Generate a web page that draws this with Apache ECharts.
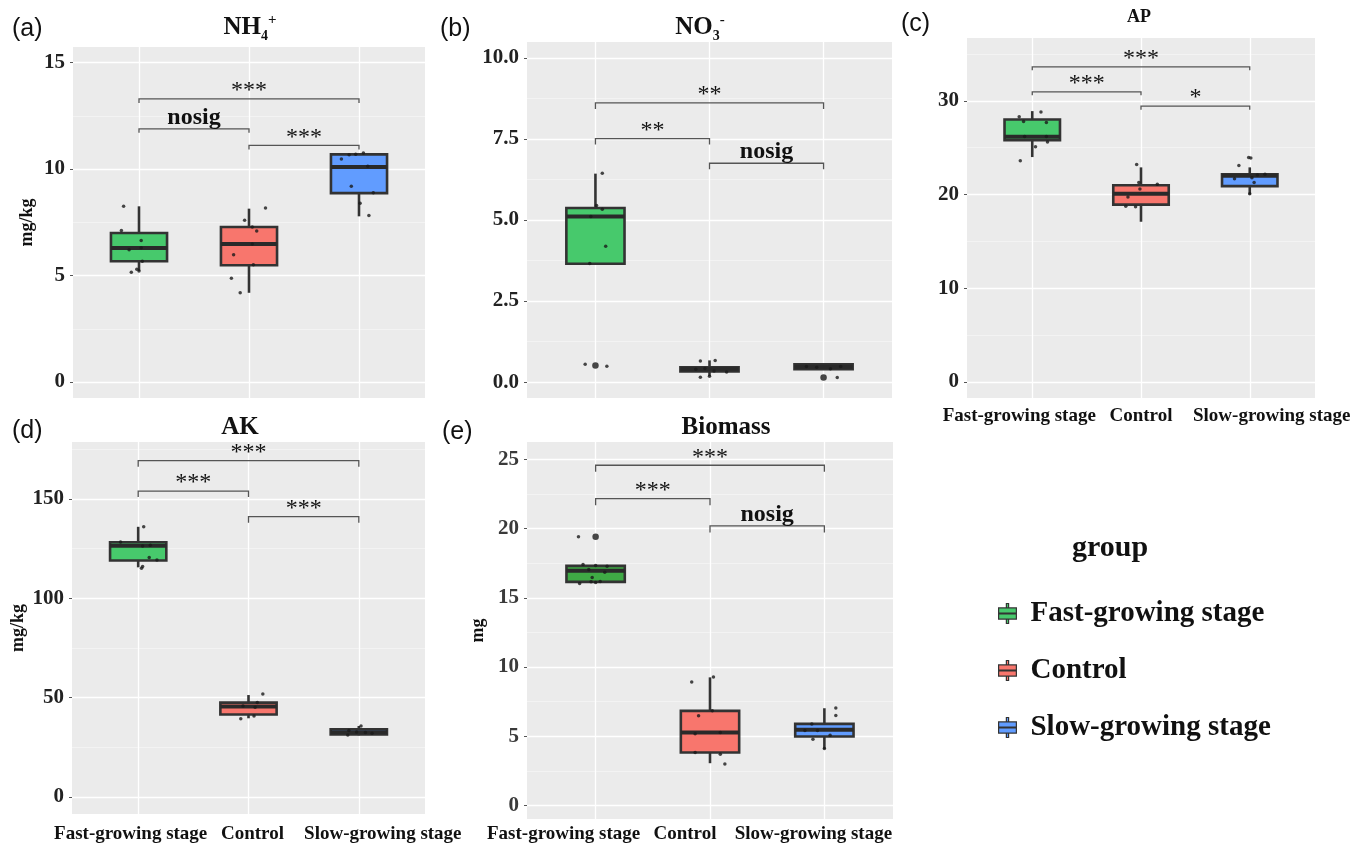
<!DOCTYPE html>
<html><head><meta charset="utf-8">
<script src="https://cdn.jsdelivr.net/npm/echarts@6/dist/echarts.min.js"></script>
<style>html,body{margin:0;padding:0;background:#fff}#c{width:1363px;height:847px}</style>
</head><body><div id="c"></div>
<script>
// ---------- data ----------
const groups = ['Fast-growing stage', 'Control', 'Slow-growing stage'];
const colors = ['#47C96C', '#F8766D', '#619CFF'];

// box stats per group: [min, Q1, median, Q3, max]
const nh4Box = [[5.21, 5.67, 6.29, 7.00, 8.25], [4.19, 5.48, 6.48, 7.28, 8.14], [7.78, 8.87, 10.09, 10.69, 10.75]];
const no3Box = [[3.65, 3.65, 5.11, 5.37, 6.43], [0.18, 0.33, 0.40, 0.46, 0.67], [0.40, 0.40, 0.47, 0.55, 0.55]];
const apBox = [[24.0, 25.8, 26.16, 28.0, 28.9], [17.1, 18.93, 20.1, 21.0, 22.9], [20.0, 20.9, 22.0, 22.17, 22.9]];
const akBox = [[115.6, 119.0, 126.5, 128.2, 136.0], [39.6, 41.5, 45.5, 47.5, 51.3], [31.0, 31.4, 32.5, 34.1, 35.7]];
const bioBox = [[16.1, 16.15, 16.95, 17.3, 17.35], [3.05, 3.82, 5.26, 6.83, 9.25], [4.06, 4.98, 5.46, 5.89, 7.02]];

// jittered observations per group: [horizontal jitter, value]
const nh4Pts = [
  [[-0.14, 8.25], [-0.16, 7.12], [0.02, 6.65], [-0.09, 6.21], [0.02, 6.31], [0.03, 5.67], [-0.02, 5.30], [-0.07, 5.16], [0, 5.21]],
  [[0.15, 8.17], [-0.04, 7.60], [0.07, 7.09], [0.03, 7.28], [0.03, 6.48], [-0.14, 5.98], [0.04, 5.51], [-0.16, 4.87], [-0.08, 4.19]],
  [[0.04, 10.75], [-0.09, 10.67], [-0.03, 10.69], [-0.16, 10.47], [0.08, 10.13], [-0.07, 9.19], [0.13, 8.89], [0.01, 8.39], [0.09, 7.82]]
];
const no3Pts = [
  [[0.06, 6.44], [0.01, 5.45], [0.06, 5.33], [-0.04, 5.11], [0.09, 4.19], [-0.05, 3.66], [-0.09, 0.55], [0.10, 0.49]],
  [[-0.08, 0.65], [0.05, 0.67], [-0.12, 0.40], [-0.04, 0.42], [0.04, 0.34], [0.15, 0.31], [-0.08, 0.15], [0, 0.18]],
  [[-0.15, 0.48], [-0.06, 0.46], [0.06, 0.41], [0.15, 0.48], [0.12, 0.14]]
];
const apPts = [
  [[-0.12, 28.3], [-0.08, 27.8], [0.08, 28.8], [0.13, 27.7], [-0.07, 26.2], [0.13, 26.2], [0.14, 25.6], [0.03, 25.1], [-0.11, 23.6]],
  [[-0.04, 23.2], [-0.02, 21.3], [0.15, 21.1], [-0.01, 20.6], [-0.12, 19.75], [-0.14, 18.75], [-0.05, 18.7]],
  [[-0.01, 23.95], [0.01, 23.9], [-0.10, 23.1], [0.07, 22.1], [0.14, 22.17], [-0.14, 21.7], [0.02, 21.8], [0.04, 21.3], [0, 20.1]]
];
const akPts = [
  [[0.05, 136.0], [-0.16, 128.4], [0.04, 126.3], [0.11, 126.7], [0.10, 120.6], [0.17, 119.3], [0.04, 116.0], [0.03, 115.1]],
  [[-0.05, 45.8], [0.06, 45.1], [0.08, 47.5], [0.13, 51.8], [-0.07, 39.3], [0.05, 40.8]],
  [[0.02, 35.7], [-0.09, 33.4], [-0.02, 32.7], [0.06, 32.4], [0.12, 32.0], [-0.10, 31.2]]
];
const bioPts = [
  [[-0.15, 19.4], [-0.11, 17.4], [0, 17.33], [0.10, 17.28], [-0.06, 17.04], [0.08, 16.85], [-0.03, 16.47], [-0.14, 16.03], [-0.04, 16.15], [0, 16.1], [0.04, 16.18]],
  [[-0.16, 8.92], [0.03, 9.28], [-0.10, 6.47], [0.02, 6.83], [-0.13, 5.17], [0.09, 5.26], [-0.13, 3.82], [0.09, 3.70], [0.13, 3.00]],
  [[0.10, 7.04], [0.10, 6.49], [-0.11, 5.89], [-0.17, 5.41], [-0.06, 5.41], [0.05, 5.07], [-0.10, 4.78], [0, 4.11]]
];
// outliers drawn larger: [group position, value]
const nh4Out = [];
const no3Out = [[1, 0.51], [3, 0.14]];
const apOut = [];
const akOut = [];
const bioOut = [[1, 19.4]];

// significance brackets: [from group, to group, y, label]
const nh4Sig = [[1, 3, 13.29, '***'], [1, 2, 11.89, 'nosig'], [2, 3, 11.11, '***']];
const no3Sig = [[1, 3, 8.61, '**'], [1, 2, 7.51, '**'], [2, 3, 6.75, 'nosig']];
const apSig = [[1, 3, 33.63, '***'], [1, 2, 30.96, '***'], [2, 3, 29.43, '*']];
const akSig = [[1, 3, 169.3, '***'], [1, 2, 154.0, '***'], [2, 3, 141.1, '***']];
const bioSig = [[1, 3, 24.57, '***'], [1, 2, 22.16, '***'], [2, 3, 20.19, 'nosig']];

// tick values
const nh4Ticks = [0, 5, 10, 15], nh4Minor = [2.5, 7.5, 12.5];
const no3Ticks = [0, 2.5, 5, 7.5, 10], no3Minor = [1.25, 3.75, 6.25, 8.75];
const apTicks = [0, 10, 20, 30], apMinor = [5, 15, 25, 35];
const akTicks = [0, 50, 100, 150], akMinor = [25, 75, 125, 175];
const bioTicks = [0, 5, 10, 15, 20, 25], bioMinor = [2.5, 7.5, 12.5, 17.5, 22.5];

// ---------- layout / style ----------
const SERIF = '"Liberation Serif", "Times New Roman", serif';
const SANS = '"Liberation Sans", Arial, sans-serif';
const BOX_W = 0.51;

const panels = [
  { box: nh4Box, pts: nh4Pts, out: nh4Out, sig: nh4Sig, ticks: nh4Ticks, minor: nh4Minor, yMin: -0.75, yMax: 15.73,
    rect: [73, 47, 352, 351], yName: 'mg/kg', nameGap: 37, showX: false, tip: 4, fmt: v => String(v), green: colors[0] },
  { box: no3Box, pts: no3Pts, out: no3Out, sig: no3Sig, ticks: no3Ticks, minor: no3Minor, yMin: -0.49, yMax: 10.49,
    rect: [527, 42, 365, 356], yName: '', nameGap: 0, showX: false, tip: 6, fmt: v => v.toFixed(1), green: colors[0] },
  { box: apBox, pts: apPts, out: apOut, sig: apSig, ticks: apTicks, minor: apMinor, yMin: -1.7, yMax: 36.7,
    rect: [967, 38, 348, 360], yName: '', nameGap: 0, showX: true, tip: 3.5, fmt: v => String(v), green: colors[0],
    xMargin: 9, xShift: [-13, 0, 22] },
  { box: akBox, pts: akPts, out: akOut, sig: akSig, ticks: akTicks, minor: akMinor, yMin: -8.6, yMax: 178.7,
    rect: [72, 442, 353, 372], yName: 'mg/kg', nameGap: 45, showX: true, tip: 6, fmt: v => String(v), green: colors[0],
    xMargin: 11, xShift: [-7.5, 4, 24] },
  { box: bioBox, pts: bioPts, out: bioOut, sig: bioSig, ticks: bioTicks, minor: bioMinor, yMin: -0.98, yMax: 26.25,
    rect: [527, 442, 366, 377], yName: 'mg', nameGap: 40, showX: true, tip: 6.5, fmt: v => String(v), green: '#3FAA45',
    xMargin: 6, xShift: [-32, -25, -11], labelColor: '#3a3a3a' }
];

function boxRender(color) {
  return function (params, api) {
    const x = api.value(0);
    const pMin = api.coord([x, api.value(1)]);
    const pQ1 = api.coord([x, api.value(2)]);
    const pMed = api.coord([x, api.value(3)]);
    const pQ3 = api.coord([x, api.value(4)]);
    const pMax = api.coord([x, api.value(5)]);
    const hw = api.size([BOX_W, 0])[0] / 2;
    const cx = pMed[0];
    const ls = { stroke: '#333', lineWidth: 2.6 };
    return {
      type: 'group', children: [
        { type: 'line', shape: { x1: cx, y1: pMax[1], x2: cx, y2: pQ3[1] }, style: ls },
        { type: 'line', shape: { x1: cx, y1: pQ1[1], x2: cx, y2: pMin[1] }, style: ls },
        { type: 'rect', shape: { x: cx - hw, y: pQ3[1], width: 2 * hw, height: Math.max(pQ1[1] - pQ3[1], 0.5) },
          style: { fill: color, stroke: '#333', lineWidth: 2.6 } },
        { type: 'line', shape: { x1: cx - hw, y1: pMed[1], x2: cx + hw, y2: pMed[1] }, style: { stroke: '#2a2a2a', lineWidth: 4 } }
      ]
    };
  };
}

function sigRender(sig, tip) {
  return function (params, api) {
    const row = sig[params.dataIndex];
    const a = api.coord([api.value(0), api.value(2)]);
    const b = api.coord([api.value(1), api.value(2)]);
    const nos = row[3] === 'nosig';
    return {
      type: 'group', children: [
        { type: 'polyline', shape: { points: [[a[0], a[1] + tip], [a[0], a[1]], [b[0], b[1]], [b[0], b[1] + tip]] },
          style: { stroke: '#555', lineWidth: 1.3, fill: null } },
        { type: 'text', x: (a[0] + b[0]) / 2, y: a[1] - (nos ? 11 : 8),
          style: { text: row[3], align: 'center', verticalAlign: 'middle',
            font: (nos ? 'bold ' : '') + '24px ' + SERIF, fill: '#111' } }
      ]
    };
  };
}

function xRich(shift) {
  const r = {};
  (shift || [0, 0, 0]).forEach((s, g) => {
    r['t' + g] = { fontFamily: SERIF, fontWeight: 'bold', fontSize: 19, color: '#111',
      padding: s < 0 ? [0, -2 * s, 0, 0] : [0, 0, 0, 2 * s] };
  });
  return r;
}

const option = {
  animation: false,
  backgroundColor: '#ffffff',
  grid: [], xAxis: [], yAxis: [], series: [],
  legend: {
    data: groups, orient: 'vertical', left: 993, top: 594, itemGap: 28,
    itemWidth: 20, itemHeight: 20,
    icon: 'path://M7,0h2v4h-2z M0,4h16v10h-16z M7,14h2v4h-2z M0,8.6h16v0.8h-16z',
    itemStyle: { borderColor: '#333', borderWidth: 1.2 },
    textStyle: { fontFamily: SERIF, fontWeight: 'bold', fontSize: 29, color: '#111', padding: [0, 0, 0, 8] },
    selectedMode: false
  },
  graphic: []
};

panels.forEach((p, i) => {
  option.grid.push({ left: p.rect[0], top: p.rect[1], width: p.rect[2], height: p.rect[3],
    show: true, backgroundColor: '#EBEBEB', borderWidth: 0, containLabel: false, outerBoundsMode: 'none' });
  option.xAxis.push({
    type: 'value', gridIndex: i, min: 0.4, max: 3.6,
    axisLine: { show: false },
    axisTick: { show: false, customValues: [1, 2, 3] },
    splitLine: { show: true, lineStyle: { color: '#ffffff', width: 1.3 } },
    axisLabel: { show: p.showX, customValues: [1, 2, 3], margin: p.xMargin || 8, hideOverlap: false,
      showMinLabel: true, showMaxLabel: true,
      formatter: v => { const g = Math.round(v) - 1; return '{t' + g + '|' + groups[g] + '}'; },
      rich: xRich(p.xShift),
      fontFamily: SERIF, fontWeight: 'bold', fontSize: 19, color: '#111' }
  });
  option.yAxis.push({
    type: 'value', gridIndex: i, min: p.yMin, max: p.yMax,
    axisLine: { show: false },
    axisTick: { show: true, length: 3, customValues: p.ticks, lineStyle: { color: '#555' } },
    splitLine: { show: true, lineStyle: { color: '#ffffff', width: 1.3 } },
    axisLabel: { customValues: p.ticks, formatter: p.fmt, margin: 8, hideOverlap: false,
      fontFamily: SERIF, fontWeight: 'bold', fontSize: 21, color: p.labelColor || '#222' },
    name: p.yName, nameLocation: 'middle', nameGap: p.nameGap,
    nameTextStyle: { fontFamily: SERIF, fontWeight: 'bold', fontSize: 18, color: '#111' }
  });
  option.yAxis.push({
    type: 'value', gridIndex: i, min: p.yMin, max: p.yMax, position: 'left',
    axisLine: { show: false },
    axisTick: { show: false, customValues: p.minor },
    axisLabel: { show: false, customValues: p.minor },
    splitLine: { show: true, lineStyle: { color: '#F7F7F7', width: 0.7 } }
  });
  const yi = 2 * i;
  p.box.forEach((b, g) => {
    const col = g === 0 ? p.green : colors[g];
    option.series.push({
      type: 'custom', name: groups[g], xAxisIndex: i, yAxisIndex: yi,
      itemStyle: { color: col },
      encode: { x: 0, y: [1, 2, 3, 4, 5] },
      data: [[g + 1].concat(b)],
      renderItem: boxRender(col), z: 2, silent: true
    });
  });
  const pts = [];
  p.pts.forEach((arr, g) => arr.forEach(d => pts.push([g + 1 + d[0], d[1]])));
  option.series.push({
    type: 'scatter', xAxisIndex: i, yAxisIndex: yi, data: pts, symbolSize: 3.5,
    itemStyle: { color: '#1a1a1a' }, z: 5, silent: true
  });
  if (p.out.length) option.series.push({
    type: 'scatter', xAxisIndex: i, yAxisIndex: yi, data: p.out, symbolSize: 6.5,
    itemStyle: { color: '#1a1a1a' }, z: 5, silent: true
  });
  option.series.push({
    type: 'custom', xAxisIndex: i, yAxisIndex: yi,
    encode: { x: [0, 1], y: 2 },
    data: p.sig.map(s => [s[0], s[1], s[2]]),
    renderItem: sigRender(p.sig, p.tip), z: 6, silent: true, clip: false
  });
});

// titles and panel letters
function richTitle(x, y, main, sub, sup) {
  return { type: 'text', x: x, y: y, style: {
    text: '{m|' + main + '}{s|' + sub + '}{p|' + sup + '}', align: 'center', verticalAlign: 'top',
    rich: {
      m: { fontSize: 25, fontWeight: 'bold', fontFamily: SERIF, lineHeight: 30, fill: '#111' },
      s: { fontSize: 14, fontWeight: 'bold', fontFamily: SERIF, lineHeight: 8, verticalAlign: 'bottom', fill: '#111' },
      p: { fontSize: 15, fontWeight: 'bold', fontFamily: SERIF, lineHeight: 18, verticalAlign: 'top', fill: '#111' }
    } } };
}
function plainText(x, y, t, font, align) {
  return { type: 'text', x: x, y: y, style: { text: t, font: font, fill: '#111', align: align || 'left', verticalAlign: 'middle' } };
}
option.graphic = [
  plainText(12, 29, '(a)', '25px ' + SANS),
  plainText(440, 29, '(b)', '25px ' + SANS),
  plainText(901, 24, '(c)', '25px ' + SANS),
  plainText(12, 431, '(d)', '25px ' + SANS),
  plainText(442, 432, '(e)', '25px ' + SANS),
  richTitle(250, 13, 'NH', '4', '+'),
  richTitle(700, 13, 'NO', '3', '-'),
  plainText(1139, 17, 'AP', 'bold 18px ' + SERIF, 'center'),
  plainText(240, 428, 'AK', 'bold 25px ' + SERIF, 'center'),
  plainText(726, 428, 'Biomass', 'bold 25px ' + SERIF, 'center'),
  plainText(1110, 548, 'group', 'bold 30px ' + SERIF, 'center')
];

const chart = echarts.init(document.getElementById('c'), null, { renderer: 'canvas' });
chart.setOption(option);
</script></body></html>
